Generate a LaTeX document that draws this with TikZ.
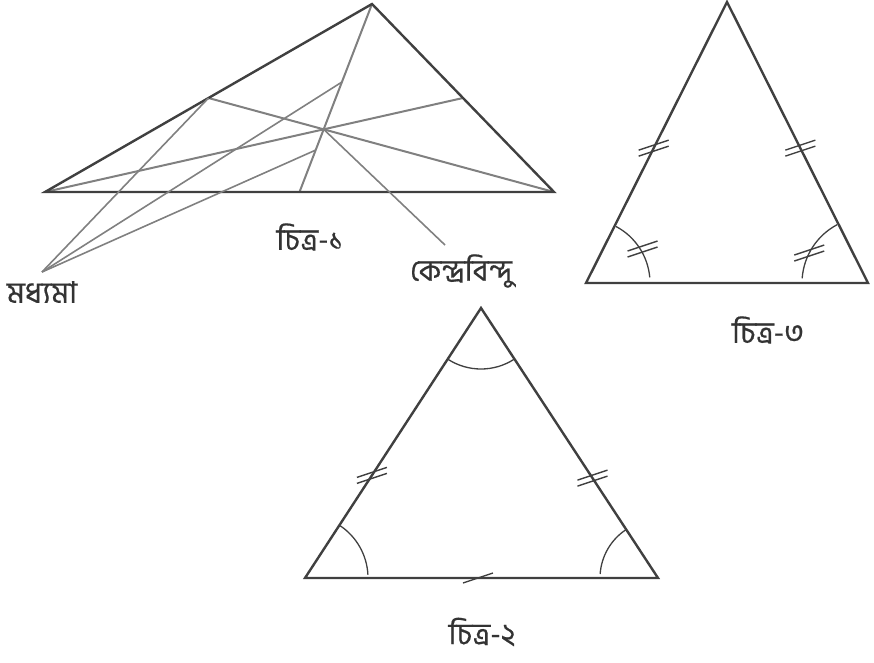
\documentclass[tikz,border=0pt]{standalone}
\usepackage{fontspec}
\usepackage{tikz}
\usetikzlibrary{calc}
\usepackage{xcolor}
\newfontfamily\bnfont[Script=Bengali, FakeBold=0.5]{Hind Siliguri}
\definecolor{mEdge}{HTML}{404040}
\definecolor{mMedian}{HTML}{808080}
\definecolor{mInk}{HTML}{333333}
\tikzset{
  edge/.style={mEdge, line width=2.4pt, line join=miter},
  median/.style={mMedian, line width=2pt},
  pointer/.style={mMedian, line width=1.6pt},
  angarc/.style={mEdge, line width=1.3pt},
  tickline/.style={mEdge, line width=1.4pt},
  caption/.style={font=\bnfont\fontsize{30}{34}\selectfont, text=mInk, inner sep=0pt},
  dtick/.pic={\draw[tickline] (-15,-2) -- (15,8) (-15,-8) -- (15,2);},
  stick/.pic={\draw[tickline] (-15,-5) -- (15,5);}
}

\begin{document}
\begin{tikzpicture}[x=1pt, y=1pt]
  \useasboundingbox (0,0) rectangle (874,-662);
  % figure 1: scalene triangle with its medians
  \coordinate (a1) at (372,-4);
  \coordinate (b1) at (45,-192);
  \coordinate (c1) at (554,-192);
  \coordinate (ma1) at ($(b1)!0.5!(c1)$);
  \coordinate (mb1) at ($(a1)!0.5!(c1)$);
  \coordinate (mc1) at ($(a1)!0.5!(b1)$);
  \coordinate (g1) at ($(a1)!2/3!(ma1)$);
  \draw[median] (a1) -- (ma1);
  \draw[median] (b1) -- (mb1);
  \draw[median] (c1) -- (mc1);
  \draw[edge] (a1) -- (b1) -- (c1) -- cycle;
  % pointers to the medians
  \node[caption] (medlbl) at (42,-292) {মধ্যমা};
  \coordinate (medtip) at (42,-272);
  \foreach \t in {0.415,0.777}
    \draw[pointer] (medtip) -- ($(a1)!\t!(ma1)$);
  \draw[pointer] (medtip) -- (mc1);
  % pointer to the centroid
  \node[caption] (cenlbl) at (461,-271) {কেন্দ্রবিন্দু};
  \coordinate (centip) at (445,-245);
  \draw[pointer] (g1) -- (centip);
  \node[caption] (cap1) at (310,-237) {চিত্র-১};

  % figure 2: isosceles triangle
  \coordinate (a2) at (481,-308);
  \coordinate (b2) at (305,-578);
  \coordinate (c2) at (658,-578);
  \draw[edge] (a2) -- (b2) -- (c2) -- cycle;
  \draw[angarc] ($(a2)+(237:61)$) arc[start angle=237, end angle=303, radius=61];
  \draw[angarc] ($(b2)+(3:63)$) arc[start angle=3, end angle=56, radius=63];
  \draw[angarc] ($(c2)+(124:58)$) arc[start angle=124, end angle=176, radius=58];
  \pic at ($(b2)!0.38!(a2)$) {dtick};
  \pic at ($(c2)!0.37!(a2)$) {dtick};
  \pic at ($(b2)!0.49!(c2)$) {stick};
  \node[caption] (cap2) at (482,-632) {চিত্র-২};

  % figure 3: isosceles triangle, equal base angles
  \coordinate (a3) at (727,-2);
  \coordinate (b3) at (586,-283);
  \coordinate (c3) at (868,-283);
  \draw[edge] (a3) -- (b3) -- (c3) -- cycle;
  \draw[angarc] ($(b3)+(5:64)$) arc[start angle=5, end angle=62, radius=64];
  \draw[angarc] ($(c3)+(118:66)$) arc[start angle=118, end angle=176, radius=66];
  \pic at ($(b3)!0.48!(a3)$) {dtick};
  \pic at ($(c3)!0.48!(a3)$) {dtick};
  \pic at ($(b3)+(31:66)$) {dtick};
  \pic at ($(c3)+(153:66)$) {dtick};
  \node[caption] (cap3) at (768,-330) {চিত্র-৩};
\end{tikzpicture}
\end{document}
